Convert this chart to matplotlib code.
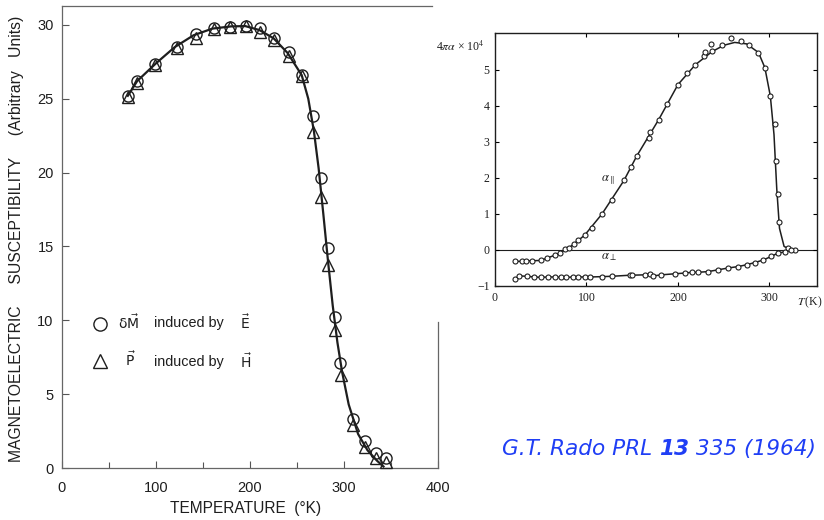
import matplotlib
matplotlib.use("Agg")
import matplotlib.pyplot as plt
from matplotlib.lines import Line2D

# ---- left panel: magnetoelectric susceptibility vs temperature ----
t_circ = [70, 80, 99, 122, 143, 162, 179, 196, 211, 226, 241, 255, 267, 276, 283, 290, 296, 310, 322, 334, 345]
me_circ = [25.2, 26.2, 27.35, 28.5, 29.36, 29.77, 29.88, 29.93, 29.77, 29.14, 28.14, 26.6,
           23.83, 19.66, 14.87, 10.25, 7.09, 3.3, 1.83, 1.04, 0.70]
t_tri = [70, 80, 99, 122, 143, 162, 179, 196, 211, 226, 241, 255, 267, 276, 283, 290, 297, 310, 322, 334, 345]
me_tri = [25.1, 26.1, 27.3, 28.45, 29.1, 29.75, 29.85, 29.95, 29.5, 29.0, 27.9, 26.55,
          22.77, 18.37, 13.74, 9.34, 6.3, 2.9, 1.4, 0.66, 0.43]
t_fit = [70, 80, 100, 120, 140, 160, 180, 195, 210, 225, 240, 255, 262, 268, 273, 278, 283,
         288, 293, 298, 305, 315, 325, 335, 342]
me_fit = [25.2, 26.2, 27.4, 28.5, 29.3, 29.75, 29.9, 29.92, 29.65, 29.1, 28.1, 26.6, 25.0,
          22.8, 20.3, 17.2, 14.0, 11.0, 8.5, 6.5, 4.3, 2.3, 1.2, 0.5, 0.1]

# ---- right panel: alpha parallel / perpendicular (4 pi alpha x 10^4) ----
t_par = [22, 29, 34, 40, 50, 57, 66, 71, 77, 81, 86, 91, 98, 106, 117, 128, 141, 149, 155,
         168, 169, 179, 188, 200, 210, 219, 229, 230, 236, 237, 248, 258, 269, 278, 288, 295,
         301, 306, 307, 309, 310, 320, 328]
a_par = [-0.32, -0.32, -0.32, -0.32, -0.29, -0.23, -0.14, -0.09, 0.02, 0.05, 0.16, 0.28, 0.41,
         0.60, 1.0, 1.39, 1.93, 2.29, 2.61, 3.12, 3.28, 3.62, 4.04, 4.59, 4.91, 5.14, 5.37, 5.49,
         5.72, 5.53, 5.69, 5.89, 5.80, 5.69, 5.48, 5.06, 4.27, 3.49, 2.48, 1.56, 0.78, 0.06, 0.0]
t_par_fit = [22, 50, 66, 80, 98, 117, 141, 155, 179, 200, 219, 237, 250, 262, 275, 288, 295,
             301, 305, 308, 311, 316, 322, 328]
a_par_fit = [-0.32, -0.29, -0.14, 0.04, 0.41, 1.0, 1.93, 2.61, 3.62, 4.59, 5.14, 5.5, 5.68,
             5.76, 5.72, 5.48, 5.06, 4.27, 3.2, 1.7, 0.6, 0.1, 0.02, 0.0]
t_perp = [22, 26, 35, 43, 50, 58, 66, 72, 78, 85, 91, 98, 104, 117, 128, 148, 150, 164, 169,
          173, 182, 197, 208, 215, 222, 233, 244, 255, 266, 275, 284, 293, 302, 309, 317, 324]
a_perp = [-0.81, -0.72, -0.73, -0.75, -0.76, -0.75, -0.75, -0.76, -0.76, -0.75, -0.75, -0.75,
          -0.75, -0.74, -0.73, -0.70, -0.70, -0.69, -0.66, -0.72, -0.69, -0.66, -0.64, -0.62,
          -0.62, -0.60, -0.55, -0.50, -0.46, -0.41, -0.35, -0.28, -0.18, -0.09, -0.05, 0.0]

ink = "#1e1e1e"
fig = plt.figure(figsize=(8.24, 5.2), dpi=100)

# left panel
ax = fig.add_axes([62 / 824, 52 / 520, 376 / 824, 462 / 520])
ax.plot(t_fit, me_fit, color=ink, lw=1.6, zorder=2)
ax.plot(t_circ, me_circ, "o", ms=8, mfc="none", mec=ink, mew=1.0, clip_on=False, zorder=3)
ax.plot(t_tri, me_tri, "^", ms=8, mfc="none", mec=ink, mew=1.0, clip_on=False, zorder=3)
ax.set_xlim(0, 400)
ax.set_ylim(0, 31.28)
ax.set_xticks([0, 100, 200, 300, 400])
ax.set_xticks([50, 150, 250, 350], minor=True)
ax.set_yticks([0, 5, 10, 15, 20, 25, 30])
ax.tick_params(direction="in", length=5, width=0.8, color="#555", labelsize=10.5,
               labelcolor=ink)
ax.tick_params(axis="x", which="minor", direction="in", length=4, width=0.8, color="#555")
ax.tick_params(axis="x", pad=9)
ax.tick_params(axis="y", pad=6)
for lab in ax.get_xticklabels() + ax.get_yticklabels():
    lab.set_family("Liberation Sans")
for s in ax.spines.values():
    s.set_color("#666")
    s.set_linewidth(0.9)
ax.spines["top"].set_bounds(0, 394)
ax.spines["right"].set_bounds(0, 9.9)
ax.set_xlabel("TEMPERATURE  (°K)", family="Liberation Sans", fontsize=11.2, color=ink)
ax.xaxis.set_label_coords(0.488, -0.072)
ax.set_ylabel("MAGNETOELECTRIC     SUSCEPTIBILITY     (Arbitrary   Units)",
              family="Liberation Sans", fontsize=11.3, color=ink)
ax.yaxis.set_label_coords(-0.1, 0.495)

# legend: markers with the field symbols, the rest as plain text
handles = [Line2D([], [], ls="none", marker="o", ms=9.5, mfc="none", mec=ink, mew=1.0),
           Line2D([], [], ls="none", marker="^", ms=9.5, mfc="none", mec=ink, mew=1.0)]
labels = [r"$\mathrm{\delta\vec{M}}$", r"  $\mathrm{\vec{P}}$"]
leg = ax.legend(handles, labels, loc="upper left", bbox_to_anchor=(0.05, 0.362),
                frameon=False, handlelength=1.0, handletextpad=0.75, labelspacing=1.32,
                prop={"family": "Liberation Sans", "size": 10})
for txt in leg.get_texts():
    txt.set_color(ink)
    txt.set_math_fontfamily("dejavusans")
for yy, field in [(9.82, r"$\mathrm{\vec{E}}$"), (7.18, r"$\mathrm{\vec{H}}$")]:
    ax.text(98, yy, "induced by", ha="left", va="center", family="Liberation Sans",
            fontsize=10.4, color=ink)
    ax.text(189, yy, field, ha="left", va="center", fontsize=10, color=ink,
            math_fontfamily="dejavusans")

# right panel
serif = "Liberation Serif"
bx = fig.add_axes([495 / 824, 234 / 520, 322 / 824, 253.3 / 520])
bx.axhline(0, color=ink, lw=0.8, zorder=1)
bx.plot(t_par_fit, a_par_fit, color=ink, lw=1.1, zorder=2)
bx.plot(t_perp, a_perp, color=ink, lw=1.1, zorder=2)
bx.plot(t_par, a_par, "o", ms=3.6, mfc="white", mec=ink, mew=0.8, zorder=3, clip_on=False)
bx.plot(t_perp, a_perp, "o", ms=3.6, mfc="white", mec=ink, mew=0.8, zorder=3, clip_on=False)
bx.set_xlim(0, 352)
bx.set_ylim(-1, 6.03)
bx.set_xticks([0, 100, 200, 300])
bx.set_yticks([-1, 0, 1, 2, 3, 4, 5])
bx.tick_params(direction="in", length=3, width=0.8, top=True, right=True,
               labelsize=8.5, labelcolor=ink, pad=4)
for lab in bx.get_xticklabels() + bx.get_yticklabels():
    lab.set_family(serif)
for s in bx.spines.values():
    s.set_color(ink)
    s.set_linewidth(1.0)
bx.text(-0.032, 0.945, r"4$\pi\alpha$ × 10$^4$", transform=bx.transAxes, ha="right",
        va="center", family=serif, fontsize=8.5, color=ink, math_fontfamily="stix")
bx.text(1.016, -0.063, r"$T\,$(K)", transform=bx.transAxes, ha="right", va="center",
        family=serif, fontsize=8.5, color=ink, math_fontfamily="stix")
bx.text(123, 1.94, r"$\alpha_{\parallel}$", ha="center", va="center", fontsize=9,
        color=ink, math_fontfamily="stix")
bx.text(124, -0.19, r"$\alpha_{\perp}$", ha="center", va="center", fontsize=9,
        color=ink, math_fontfamily="stix")

# citation
blue = "#1f3ef5"
base_y = (520 - 455) / 520
cfont = dict(color=blue, style="italic", family="DejaVu Sans", fontsize=15.6, va="baseline")
c1 = fig.text(502 / 824, base_y, "G.T. Rado PRL ", **cfont)
c2 = fig.text(0, base_y, "13", weight="bold", **cfont)
c3 = fig.text(0, base_y, " 335 (1964)", **cfont)
fig.canvas.draw()
r = fig.canvas.get_renderer()
inv = fig.transFigure.inverted()
c2.set_x(inv.transform((c1.get_window_extent(r).x1, 0))[0])
fig.canvas.draw()
c3.set_x(inv.transform((c2.get_window_extent(r).x1, 0))[0])

fig.savefig("out.png", dpi=100)
